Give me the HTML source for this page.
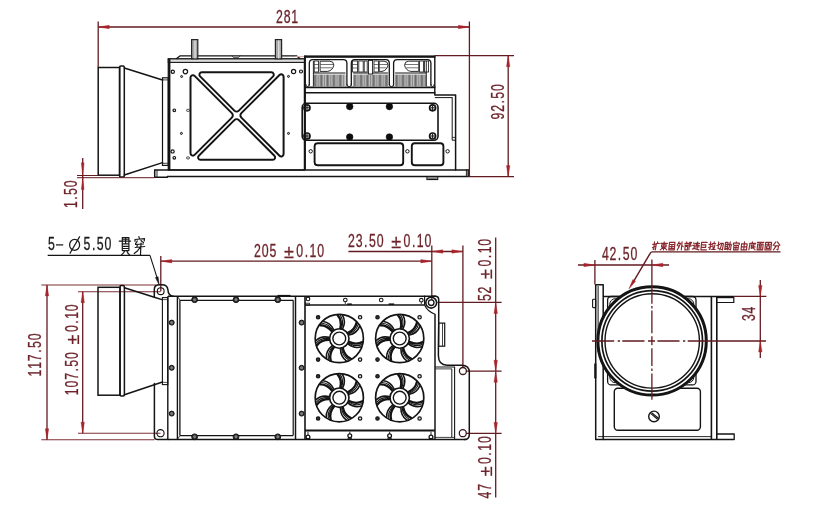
<!DOCTYPE html>
<html><head><meta charset="utf-8"><title>Dimension drawing</title>
<style>
html,body{margin:0;padding:0;background:#fff;}
svg{display:block;font-family:"Liberation Sans",sans-serif;}
</style></head><body>
<svg width="814" height="507" viewBox="0 0 814 507">
<rect width="814" height="507" fill="#ffffff"/>
<g opacity="0.999">
<g id="dims-plan">
<line x1="160.80" y1="256.00" x2="160.80" y2="291.20" stroke="#621b21" stroke-width="1.3" />
<line x1="431.80" y1="245.60" x2="431.80" y2="300.00" stroke="#621b21" stroke-width="1.3" />
<line x1="160.80" y1="261.20" x2="431.80" y2="261.20" stroke="#621b21" stroke-width="1.3" />
<path d="M160.80,261.20 L171.80,262.90 L171.80,259.50 Z" fill="#a6232b" stroke="#a6232b" stroke-width="0.4"/>
<path d="M431.80,261.20 L420.80,259.50 L420.80,262.90 Z" fill="#a6232b" stroke="#a6232b" stroke-width="0.4"/>
<g fill="#6c232a" stroke="#6c232a" text-anchor="middle">
<text transform="translate(254.60,257.00) scale(0.7,1)" x="4.14 15.14 26.14" y="0" font-size="17.6" stroke-width="0.3">205</text>
<text transform="translate(254.60,257.00) translate(34.30,0.8) scale(0.95,1.0)" x="0" y="0" font-size="19" stroke-width="0.25">±</text>
<text transform="translate(254.60,257.00) scale(0.7,1)" x="64.57 74.00 83.43 94.43" y="0" font-size="17.6" stroke-width="0.3">0.10</text>
</g>
<line x1="462.90" y1="245.60" x2="462.90" y2="367.60" stroke="#621b21" stroke-width="1.3" />
<line x1="348.40" y1="251.50" x2="462.90" y2="251.50" stroke="#621b21" stroke-width="1.3" />
<path d="M431.80,251.50 L442.80,253.20 L442.80,249.80 Z" fill="#a6232b" stroke="#a6232b" stroke-width="0.4"/>
<path d="M462.90,251.50 L451.90,249.80 L451.90,253.20 Z" fill="#a6232b" stroke="#a6232b" stroke-width="0.4"/>
<g fill="#6c232a" stroke="#6c232a" text-anchor="middle">
<text transform="translate(348.60,247.00) scale(0.7,1)" x="4.14 15.14 24.57 34.00 45.00" y="0" font-size="17.6" stroke-width="0.3">23.50</text>
<text transform="translate(348.60,247.00) translate(47.50,0.8) scale(0.95,1.0)" x="0" y="0" font-size="19" stroke-width="0.25">±</text>
<text transform="translate(348.60,247.00) scale(0.7,1)" x="83.43 92.86 102.29 113.29" y="0" font-size="17.6" stroke-width="0.3">0.10</text>
</g>
<line x1="495.70" y1="237.50" x2="495.70" y2="497.40" stroke="#621b21" stroke-width="1.3" />
<line x1="437.40" y1="302.40" x2="501.60" y2="302.40" stroke="#621b21" stroke-width="1.3" />
<line x1="466.30" y1="371.20" x2="501.60" y2="371.20" stroke="#621b21" stroke-width="1.3" />
<line x1="466.30" y1="433.40" x2="501.60" y2="433.40" stroke="#621b21" stroke-width="1.3" />
<path d="M495.70,302.40 L494.00,313.40 L497.40,313.40 Z" fill="#a6232b" stroke="#a6232b" stroke-width="0.4"/>
<path d="M495.70,371.20 L497.40,360.20 L494.00,360.20 Z" fill="#a6232b" stroke="#a6232b" stroke-width="0.4"/>
<path d="M495.70,371.20 L494.00,382.20 L497.40,382.20 Z" fill="#a6232b" stroke="#a6232b" stroke-width="0.4"/>
<path d="M495.70,433.40 L497.40,422.40 L494.00,422.40 Z" fill="#a6232b" stroke="#a6232b" stroke-width="0.4"/>
<g fill="#6c232a" stroke="#6c232a" text-anchor="middle">
<text transform="translate(491.40,300.60) rotate(-90) scale(0.7,1)" x="4.14 15.14" y="0" font-size="17.6" stroke-width="0.3">52</text>
<text transform="translate(491.40,300.60) rotate(-90) translate(26.60,0.8) scale(0.95,1.0)" x="0" y="0" font-size="19" stroke-width="0.25">±</text>
<text transform="translate(491.40,300.60) rotate(-90) scale(0.7,1)" x="53.57 63.00 72.43 83.43" y="0" font-size="17.6" stroke-width="0.3">0.10</text>
</g>
<g fill="#6c232a" stroke="#6c232a" text-anchor="middle">
<text transform="translate(491.40,498.00) rotate(-90) scale(0.7,1)" x="4.14 15.14" y="0" font-size="17.6" stroke-width="0.3">47</text>
<text transform="translate(491.40,498.00) rotate(-90) translate(26.60,0.8) scale(0.95,1.0)" x="0" y="0" font-size="19" stroke-width="0.25">±</text>
<text transform="translate(491.40,498.00) rotate(-90) scale(0.7,1)" x="53.57 63.00 72.43 83.43" y="0" font-size="17.6" stroke-width="0.3">0.10</text>
</g>
<line x1="41.30" y1="284.90" x2="156.00" y2="284.90" stroke="#7d2f35" stroke-width="1.05" />
<line x1="41.30" y1="439.70" x2="154.60" y2="439.70" stroke="#7d2f35" stroke-width="1.05" />
<line x1="47.00" y1="284.90" x2="47.00" y2="439.70" stroke="#621b21" stroke-width="1.3" />
<path d="M47.00,284.90 L45.30,295.90 L48.70,295.90 Z" fill="#a6232b" stroke="#a6232b" stroke-width="0.4"/>
<path d="M47.00,439.70 L48.70,428.70 L45.30,428.70 Z" fill="#a6232b" stroke="#a6232b" stroke-width="0.4"/>
<g fill="#6c232a" stroke="#6c232a" text-anchor="middle">
<text transform="translate(41.30,376.00) rotate(-90) scale(0.7,1)" x="4.14 15.14 26.14 35.57 45.00 56.00" y="0" font-size="17.6" stroke-width="0.3">117.50</text>
</g>
<line x1="78.00" y1="291.70" x2="160.70" y2="291.70" stroke="#7d2f35" stroke-width="1.05" />
<line x1="78.00" y1="433.20" x2="160.50" y2="433.20" stroke="#7d2f35" stroke-width="1.05" />
<line x1="82.70" y1="291.70" x2="82.70" y2="433.20" stroke="#621b21" stroke-width="1.3" />
<path d="M82.70,291.70 L81.00,302.70 L84.40,302.70 Z" fill="#a6232b" stroke="#a6232b" stroke-width="0.4"/>
<path d="M82.70,433.20 L84.40,422.20 L81.00,422.20 Z" fill="#a6232b" stroke="#a6232b" stroke-width="0.4"/>
<g fill="#6c232a" stroke="#6c232a" text-anchor="middle">
<text transform="translate(77.90,394.70) rotate(-90) scale(0.7,1)" x="4.14 15.14 26.14 35.57 45.00 56.00" y="0" font-size="17.6" stroke-width="0.3">107.50</text>
<text transform="translate(77.90,394.70) rotate(-90) translate(55.20,0.8) scale(0.95,1.0)" x="0" y="0" font-size="19" stroke-width="0.25">±</text>
<text transform="translate(77.90,394.70) rotate(-90) scale(0.7,1)" x="94.43 103.86 113.29 124.29" y="0" font-size="17.6" stroke-width="0.3">0.10</text>
</g>
</g>
<g id="callout">
<line x1="47.70" y1="255.30" x2="150.00" y2="255.30" stroke="#141414" stroke-width="1.2" />
<line x1="150.00" y1="255.30" x2="157.20" y2="278.20" stroke="#141414" stroke-width="1.1" />
<path d="M159.30,285.20 L158.18,276.64 L155.32,277.54 Z" fill="#141414" stroke="#141414" stroke-width="0.4"/>
<g fill="#1a1a1a" stroke="#1a1a1a" text-anchor="middle">
<text transform="translate(48.40,250.40) scale(0.7,1)" x="4.14" y="0" font-size="17.6" stroke-width="0.3">5</text>
</g>
<line x1="56.00" y1="244.90" x2="63.20" y2="244.90" stroke="#1a1a1a" stroke-width="1.25" />
<ellipse cx="74.6" cy="244.9" rx="5.0" ry="5.5" fill="none" stroke="#1a1a1a" stroke-width="1.25"/>
<line x1="69.80" y1="253.60" x2="79.80" y2="236.40" stroke="#1a1a1a" stroke-width="1.15" />
<g fill="#1a1a1a" stroke="#1a1a1a" text-anchor="middle">
<text transform="translate(84.10,250.40) scale(0.7,1)" x="4.14 13.57 23.00 34.00" y="0" font-size="17.6" stroke-width="0.3">5.50</text>
</g>
<path d="M122.30,237.50 L128.90,237.50 L128.90,250.60 L122.30,250.60 L122.30,237.50 M122.30,239.20 L128.90,239.20 M119.20,241.10 L130.60,241.10 M125.60,237.50 L125.60,243.90 M122.30,243.90 L128.90,243.90 M122.30,246.40 L128.90,246.40 M122.30,248.50 L128.90,248.50 M124.80,250.60 L123.60,252.80 L121.50,254.90 M126.60,250.60 L127.80,253.00 L129.60,254.90 " fill="none" stroke="#1a1a1a" stroke-width="1.2" stroke-linecap="round" stroke-linejoin="round"/>
<path d="M138.90,236.70 L139.50,238.90 M135.00,241.30 L135.00,239.50 L144.50,238.60 L144.20,240.90 M137.20,240.90 L136.60,242.30 L135.50,243.50 M141.00,240.50 L142.00,241.50 L143.50,242.50 M135.50,244.50 L143.50,244.00 M137.40,244.30 L136.80,247.30 M135.20,247.50 L144.70,246.50 M141.00,243.00 L140.50,254.90 M140.00,247.50 L137.70,250.70 L134.20,253.50 " fill="none" stroke="#1a1a1a" stroke-width="1.2" stroke-linecap="round" stroke-linejoin="round"/>
</g>
<g id="note">
<path d="M654.50,241.90 L653.74,249.50 L652.98,249.10 M652.75,244.40 L655.75,244.40 M652.44,247.50 L655.56,246.30 M657.60,241.90 L657.70,242.90 M656.04,243.50 L659.44,243.50 M656.44,243.50 L655.30,249.90 " fill="none" stroke="#8a2a30" stroke-width="1.15" stroke-linecap="round" stroke-linejoin="round"/>
<path d="M660.88,243.40 L667.38,243.40 M661.73,244.90 L666.23,244.90 L666.03,246.90 L661.53,246.90 L661.73,244.90 M664.23,241.90 L663.43,249.90 M663.73,246.90 L660.23,249.90 M663.73,246.90 L666.73,249.90 " fill="none" stroke="#8a2a30" stroke-width="1.15" stroke-linecap="round" stroke-linejoin="round"/>
<path d="M669.51,242.40 L675.01,242.40 L674.26,249.90 L668.76,249.90 L669.51,242.40 M670.40,244.50 L673.80,244.50 M670.20,246.50 L673.60,246.50 M670.02,248.30 L673.42,248.30 M672.00,244.50 L671.62,248.30 " fill="none" stroke="#8a2a30" stroke-width="1.15" stroke-linecap="round" stroke-linejoin="round"/>
<path d="M679.09,241.90 L677.13,245.50 M678.44,243.40 L680.54,243.40 L677.29,249.90 M678.19,245.90 L679.19,246.90 M682.09,241.90 L681.29,249.90 M681.75,245.30 L683.21,246.70 " fill="none" stroke="#8a2a30" stroke-width="1.15" stroke-linecap="round" stroke-linejoin="round"/>
<path d="M686.72,241.90 L686.72,242.90 M684.97,243.40 L688.47,243.40 M684.80,245.10 L688.30,245.10 M685.17,246.40 L687.67,246.40 L687.32,249.90 L684.82,249.90 L685.17,246.40 M689.57,242.40 L688.82,249.90 M689.57,242.40 L691.57,242.40 L690.18,244.30 L691.22,245.90 L689.16,246.50 " fill="none" stroke="#8a2a30" stroke-width="1.15" stroke-linecap="round" stroke-linejoin="round"/>
<path d="M693.55,242.90 L694.45,243.90 M692.80,245.40 L694.30,245.40 L694.00,248.40 M692.43,249.10 L694.00,248.40 L698.95,249.90 M695.50,243.40 L699.50,243.40 M697.65,241.90 L695.80,245.40 L699.30,245.40 M697.70,244.40 L697.31,248.30 M695.15,246.90 L699.15,246.90 " fill="none" stroke="#8a2a30" stroke-width="1.15" stroke-linecap="round" stroke-linejoin="round"/>
<path d="M701.63,242.40 L707.13,242.40 M701.63,242.40 L700.88,249.90 L706.38,249.90 M701.38,244.90 L705.88,244.90 L705.63,247.40 L701.13,247.40 " fill="none" stroke="#8a2a30" stroke-width="1.15" stroke-linecap="round" stroke-linejoin="round"/>
<path d="M710.71,241.90 L709.95,249.50 L709.19,249.10 M708.96,244.40 L711.96,244.40 M708.65,247.50 L711.77,246.30 M714.21,241.90 L714.11,242.90 M712.55,243.50 L715.65,243.50 M712.91,244.90 L713.06,248.40 M714.91,244.90 L714.06,248.40 M711.65,249.50 L715.25,249.50 " fill="none" stroke="#8a2a30" stroke-width="1.15" stroke-linecap="round" stroke-linejoin="round"/>
<path d="M716.88,245.50 L720.00,244.30 M718.74,241.90 L718.08,248.50 L719.54,248.90 M720.59,243.40 L723.39,243.40 L722.44,249.90 L721.49,249.40 M721.89,243.40 L719.94,249.90 " fill="none" stroke="#8a2a30" stroke-width="1.15" stroke-linecap="round" stroke-linejoin="round"/>
<path d="M725.52,242.40 L728.02,242.40 L727.42,248.40 L724.92,248.40 L725.52,242.40 M725.32,244.40 L727.82,244.40 M725.12,246.40 L727.62,246.40 M724.51,249.50 L727.77,248.90 M728.52,244.40 L731.32,244.40 L730.47,249.90 L729.52,249.40 M730.27,241.90 L729.27,246.90 L727.77,249.90 " fill="none" stroke="#8a2a30" stroke-width="1.15" stroke-linecap="round" stroke-linejoin="round"/>
<path d="M736.30,241.90 L736.20,242.90 M733.34,244.50 L733.48,243.10 L739.38,243.10 L739.24,244.50 M733.95,245.40 L738.45,245.40 L738.00,249.90 L733.50,249.90 L733.95,245.40 M733.73,247.60 L738.23,247.60 M736.15,245.40 L735.70,249.90 " fill="none" stroke="#8a2a30" stroke-width="1.15" stroke-linecap="round" stroke-linejoin="round"/>
<path d="M741.63,243.90 L747.13,243.90 L746.53,249.90 L741.03,249.90 L741.63,243.90 M741.33,246.90 L746.83,246.90 M744.53,241.90 L743.73,249.90 " fill="none" stroke="#8a2a30" stroke-width="1.15" stroke-linecap="round" stroke-linejoin="round"/>
<path d="M752.36,241.90 L752.46,242.90 M749.71,243.40 L755.71,243.40 M750.01,243.40 L748.86,249.90 M751.24,245.10 L755.08,244.70 M751.56,244.90 L751.21,248.40 L752.76,247.90 M751.36,246.90 L755.16,246.90 M753.36,244.90 L753.71,248.40 L755.06,249.90 " fill="none" stroke="#8a2a30" stroke-width="1.15" stroke-linecap="round" stroke-linejoin="round"/>
<path d="M757.34,242.40 L763.84,242.40 M760.54,242.40 L759.97,244.10 M757.67,244.10 L763.17,244.10 L762.59,249.90 L757.09,249.90 L757.67,244.10 M759.47,244.10 L758.89,249.90 M761.37,244.10 L760.79,249.90 M759.29,245.90 L761.19,245.90 M759.09,247.90 L760.99,247.90 " fill="none" stroke="#8a2a30" stroke-width="1.15" stroke-linecap="round" stroke-linejoin="round"/>
<path d="M765.67,242.40 L771.57,242.40 L770.82,249.90 L764.92,249.90 L765.67,242.40 M766.49,244.20 L770.39,244.20 M768.50,243.10 L768.22,245.90 M766.82,245.90 L769.72,245.90 L769.47,248.40 L766.57,248.40 L766.82,245.90 " fill="none" stroke="#8a2a30" stroke-width="1.15" stroke-linecap="round" stroke-linejoin="round"/>
<path d="M775.95,241.90 L773.10,245.40 M777.45,241.90 L779.90,245.40 M774.55,245.90 L778.55,245.90 L777.85,249.90 L776.90,249.40 M776.25,245.90 L773.45,249.90 " fill="none" stroke="#8a2a30" stroke-width="1.15" stroke-linecap="round" stroke-linejoin="round"/>
</g>
<g id="view-side">
<rect x="98.20" y="67.50" width="21.40" height="107.70" rx="0" fill="none" stroke="#141414" stroke-width="1.5"/>
<rect x="119.60" y="66.10" width="4.70" height="111.00" rx="1.2" fill="none" stroke="#141414" stroke-width="1.5"/>
<path d="M124.30,68.00 L162.50,80.00" fill="none" stroke="#141414" stroke-width="1.5" stroke-linejoin="round" stroke-linecap="round" />
<path d="M124.30,175.00 L162.50,162.60" fill="none" stroke="#141414" stroke-width="1.5" stroke-linejoin="round" stroke-linecap="round" />
<rect x="162.50" y="77.80" width="5.80" height="87.60" rx="0" fill="none" stroke="#141414" stroke-width="1.2"/>
<line x1="162.50" y1="79.90" x2="168.30" y2="79.90" stroke="#141414" stroke-width="0.8" />
<line x1="162.50" y1="163.30" x2="168.30" y2="163.30" stroke="#141414" stroke-width="0.8" />
<path d="M154.70,170.00 L154.70,177.30 L167.40,177.30 L167.40,176.60 L468.60,176.60 L468.60,170.00" fill="none" stroke="#141414" stroke-width="1.5" stroke-linejoin="round" stroke-linecap="round" />
<line x1="154.70" y1="170.00" x2="468.60" y2="170.00" stroke="#141414" stroke-width="1.5" />
<line x1="157.00" y1="170.00" x2="157.00" y2="177.30" stroke="#141414" stroke-width="0.9" />
<rect x="466.3" y="170.0" width="2.3" height="6.6" fill="#777" stroke="#141414" stroke-width="0.8"/>
<rect x="426.90" y="176.60" width="10.90" height="3.00" rx="0" fill="#999" stroke="#141414" stroke-width="1.0"/>
<line x1="428.50" y1="179.40" x2="436.20" y2="179.40" stroke="#141414" stroke-width="1.2" />
<rect x="168.30" y="58.90" width="136.10" height="111.10" rx="0" fill="none" stroke="#141414" stroke-width="1.3"/>
<rect x="168.3" y="58.9" width="136.1" height="3.5" fill="#dcdcdc" stroke="#141414" stroke-width="1.1"/>
<line x1="169.60" y1="58.90" x2="169.60" y2="170.00" stroke="#141414" stroke-width="1.6" />
<path d="M176.60,58.60 L180.20,55.80 L296.40,55.80 L300.00,58.60" fill="none" stroke="#141414" stroke-width="1.3" stroke-linejoin="round" stroke-linecap="round" />
<path d="M232.00,55.80 L233.50,57.60 L238.50,57.60 L240.00,55.80" fill="none" stroke="#141414" stroke-width="0.7" stroke-linejoin="round" stroke-linecap="round" />
<rect x="191.6" y="39.6" width="6.2" height="19.2" fill="#a8a8a8" stroke="#262626" stroke-width="1.2"/>
<line x1="195.00" y1="40.40" x2="195.00" y2="58.40" stroke="#ececec" stroke-width="1.1" />
<rect x="275.4" y="39.6" width="6.2" height="19.2" fill="#a8a8a8" stroke="#262626" stroke-width="1.2"/>
<line x1="278.80" y1="40.40" x2="278.80" y2="58.40" stroke="#ececec" stroke-width="1.1" />
<path d="M194.60,75.89 A2.4,2.4 0 0 0 190.50,77.59 L190.50,153.21 A2.4,2.4 0 0 0 194.60,154.91 L231.86,117.66 A3.2,3.2 0 0 0 231.86,113.14 Z" fill="none" stroke="#141414" stroke-width="2.0" stroke-linejoin="round"/>
<path d="M279.50,74.99 A2.4,2.4 0 0 1 283.60,76.69 L283.60,154.11 A2.4,2.4 0 0 1 279.50,155.81 L241.34,117.66 A3.2,3.2 0 0 1 241.34,113.14 Z" fill="none" stroke="#141414" stroke-width="2.0" stroke-linejoin="round"/>
<path d="M200.09,76.40 A2.4,2.4 0 0 1 201.79,72.30 L271.41,72.30 A2.4,2.4 0 0 1 273.11,76.40 L238.86,110.66 A3.2,3.2 0 0 1 234.34,110.66 Z" fill="none" stroke="#141414" stroke-width="2.0" stroke-linejoin="round"/>
<path d="M198.79,155.70 A2.4,2.4 0 0 0 200.49,159.80 L272.71,159.80 A2.4,2.4 0 0 0 274.41,155.70 L238.86,120.14 A3.2,3.2 0 0 0 234.34,120.14 Z" fill="none" stroke="#141414" stroke-width="2.0" stroke-linejoin="round"/>
<circle cx="172.80" cy="71.70" r="1.60" fill="none" stroke="#141414" stroke-width="1.2"/>
<circle cx="185.40" cy="71.60" r="2.20" fill="none" stroke="#141414" stroke-width="1.2"/>
<circle cx="174.30" cy="110.30" r="1.30" fill="none" stroke="#141414" stroke-width="1.2"/>
<circle cx="172.60" cy="151.40" r="1.60" fill="none" stroke="#141414" stroke-width="1.2"/>
<circle cx="174.30" cy="157.80" r="1.30" fill="none" stroke="#141414" stroke-width="1.2"/>
<circle cx="293.60" cy="71.50" r="2.10" fill="none" stroke="#141414" stroke-width="1.2"/>
<circle cx="301.00" cy="71.50" r="1.50" fill="none" stroke="#141414" stroke-width="1.2"/>
<circle cx="181.60" cy="76.50" r="1.00" fill="#bbb" stroke="#141414" stroke-width="1.0"/>
<circle cx="181.40" cy="133.40" r="1.00" fill="#bbb" stroke="#141414" stroke-width="1.0"/>
<circle cx="288.50" cy="76.40" r="1.00" fill="#bbb" stroke="#141414" stroke-width="1.0"/>
<circle cx="288.50" cy="133.40" r="1.00" fill="#bbb" stroke="#141414" stroke-width="1.0"/>
<rect x="186.60" y="109.40" width="2.80" height="2.00" rx="0.8" fill="none" stroke="#141414" stroke-width="0.8"/>
<rect x="186.60" y="156.90" width="2.80" height="2.00" rx="0.8" fill="none" stroke="#141414" stroke-width="0.8"/>
<rect x="304.4" y="55.4" width="131" height="2.4" fill="#141414"/>
<line x1="305.00" y1="55.40" x2="305.00" y2="170.00" stroke="#141414" stroke-width="1.9" />
<line x1="434.80" y1="55.40" x2="434.80" y2="95.00" stroke="#141414" stroke-width="1.4" />
<line x1="304.40" y1="87.40" x2="435.40" y2="87.40" stroke="#141414" stroke-width="1.8" />
<line x1="304.40" y1="92.70" x2="435.40" y2="92.70" stroke="#141414" stroke-width="1.4" />
<rect x="313.4" y="74.6" width="32.00" height="12.0" fill="#8c8c8c"/>
<line x1="315.00" y1="74.80" x2="315.00" y2="86.40" stroke="#5a5a5a" stroke-width="0.7" />
<line x1="317.10" y1="74.80" x2="317.10" y2="86.40" stroke="#d2d2d2" stroke-width="0.7" />
<line x1="319.20" y1="74.80" x2="319.20" y2="86.40" stroke="#d2d2d2" stroke-width="0.7" />
<line x1="321.30" y1="74.80" x2="321.30" y2="86.40" stroke="#5a5a5a" stroke-width="0.7" />
<line x1="323.40" y1="74.80" x2="323.40" y2="86.40" stroke="#d2d2d2" stroke-width="0.7" />
<line x1="325.50" y1="74.80" x2="325.50" y2="86.40" stroke="#d2d2d2" stroke-width="0.7" />
<line x1="327.60" y1="74.80" x2="327.60" y2="86.40" stroke="#5a5a5a" stroke-width="0.7" />
<line x1="329.70" y1="74.80" x2="329.70" y2="86.40" stroke="#d2d2d2" stroke-width="0.7" />
<line x1="331.80" y1="74.80" x2="331.80" y2="86.40" stroke="#d2d2d2" stroke-width="0.7" />
<line x1="333.90" y1="74.80" x2="333.90" y2="86.40" stroke="#5a5a5a" stroke-width="0.7" />
<line x1="336.00" y1="74.80" x2="336.00" y2="86.40" stroke="#d2d2d2" stroke-width="0.7" />
<line x1="338.10" y1="74.80" x2="338.10" y2="86.40" stroke="#d2d2d2" stroke-width="0.7" />
<line x1="340.20" y1="74.80" x2="340.20" y2="86.40" stroke="#5a5a5a" stroke-width="0.7" />
<line x1="342.30" y1="74.80" x2="342.30" y2="86.40" stroke="#d2d2d2" stroke-width="0.7" />
<line x1="344.40" y1="74.80" x2="344.40" y2="86.40" stroke="#d2d2d2" stroke-width="0.7" />
<line x1="313.40" y1="73.00" x2="345.40" y2="73.00" stroke="#141414" stroke-width="1.0" />
<path d="M309.3,85.0 L309.3,63.2 Q309.3,59.6 312.90000000000003,59.6 L343.29999999999995,59.6 Q346.9,59.6 346.9,63.2 L346.9,85.0" fill="none" stroke="#141414" stroke-width="1.3" stroke-linejoin="round" stroke-linecap="round" />
<rect x="353.2" y="74.6" width="34.90" height="12.0" fill="#8c8c8c"/>
<line x1="354.80" y1="74.80" x2="354.80" y2="86.40" stroke="#5a5a5a" stroke-width="0.7" />
<line x1="356.90" y1="74.80" x2="356.90" y2="86.40" stroke="#d2d2d2" stroke-width="0.7" />
<line x1="359.00" y1="74.80" x2="359.00" y2="86.40" stroke="#d2d2d2" stroke-width="0.7" />
<line x1="361.10" y1="74.80" x2="361.10" y2="86.40" stroke="#5a5a5a" stroke-width="0.7" />
<line x1="363.20" y1="74.80" x2="363.20" y2="86.40" stroke="#d2d2d2" stroke-width="0.7" />
<line x1="365.30" y1="74.80" x2="365.30" y2="86.40" stroke="#d2d2d2" stroke-width="0.7" />
<line x1="367.40" y1="74.80" x2="367.40" y2="86.40" stroke="#5a5a5a" stroke-width="0.7" />
<line x1="369.50" y1="74.80" x2="369.50" y2="86.40" stroke="#d2d2d2" stroke-width="0.7" />
<line x1="371.60" y1="74.80" x2="371.60" y2="86.40" stroke="#d2d2d2" stroke-width="0.7" />
<line x1="373.70" y1="74.80" x2="373.70" y2="86.40" stroke="#5a5a5a" stroke-width="0.7" />
<line x1="375.80" y1="74.80" x2="375.80" y2="86.40" stroke="#d2d2d2" stroke-width="0.7" />
<line x1="377.90" y1="74.80" x2="377.90" y2="86.40" stroke="#d2d2d2" stroke-width="0.7" />
<line x1="380.00" y1="74.80" x2="380.00" y2="86.40" stroke="#5a5a5a" stroke-width="0.7" />
<line x1="382.10" y1="74.80" x2="382.10" y2="86.40" stroke="#d2d2d2" stroke-width="0.7" />
<line x1="384.20" y1="74.80" x2="384.20" y2="86.40" stroke="#d2d2d2" stroke-width="0.7" />
<line x1="386.30" y1="74.80" x2="386.30" y2="86.40" stroke="#5a5a5a" stroke-width="0.7" />
<line x1="353.20" y1="73.00" x2="388.10" y2="73.00" stroke="#141414" stroke-width="1.0" />
<path d="M351.3,85.0 L351.3,63.2 Q351.3,59.6 354.90000000000003,59.6 L385.7,59.6 Q389.3,59.6 389.3,63.2 L389.3,85.0" fill="none" stroke="#141414" stroke-width="1.3" stroke-linejoin="round" stroke-linecap="round" />
<rect x="395.1" y="74.6" width="31.20" height="12.0" fill="#8c8c8c"/>
<line x1="396.70" y1="74.80" x2="396.70" y2="86.40" stroke="#5a5a5a" stroke-width="0.7" />
<line x1="398.80" y1="74.80" x2="398.80" y2="86.40" stroke="#d2d2d2" stroke-width="0.7" />
<line x1="400.90" y1="74.80" x2="400.90" y2="86.40" stroke="#d2d2d2" stroke-width="0.7" />
<line x1="403.00" y1="74.80" x2="403.00" y2="86.40" stroke="#5a5a5a" stroke-width="0.7" />
<line x1="405.10" y1="74.80" x2="405.10" y2="86.40" stroke="#d2d2d2" stroke-width="0.7" />
<line x1="407.20" y1="74.80" x2="407.20" y2="86.40" stroke="#d2d2d2" stroke-width="0.7" />
<line x1="409.30" y1="74.80" x2="409.30" y2="86.40" stroke="#5a5a5a" stroke-width="0.7" />
<line x1="411.40" y1="74.80" x2="411.40" y2="86.40" stroke="#d2d2d2" stroke-width="0.7" />
<line x1="413.50" y1="74.80" x2="413.50" y2="86.40" stroke="#d2d2d2" stroke-width="0.7" />
<line x1="415.60" y1="74.80" x2="415.60" y2="86.40" stroke="#5a5a5a" stroke-width="0.7" />
<line x1="417.70" y1="74.80" x2="417.70" y2="86.40" stroke="#d2d2d2" stroke-width="0.7" />
<line x1="419.80" y1="74.80" x2="419.80" y2="86.40" stroke="#d2d2d2" stroke-width="0.7" />
<line x1="421.90" y1="74.80" x2="421.90" y2="86.40" stroke="#5a5a5a" stroke-width="0.7" />
<line x1="424.00" y1="74.80" x2="424.00" y2="86.40" stroke="#d2d2d2" stroke-width="0.7" />
<line x1="395.10" y1="73.00" x2="426.30" y2="73.00" stroke="#141414" stroke-width="1.0" />
<path d="M393.6,85.0 L393.6,63.2 Q393.6,59.6 397.20000000000005,59.6 L427.29999999999995,59.6 Q430.9,59.6 430.9,63.2 L430.9,85.0" fill="none" stroke="#141414" stroke-width="1.3" stroke-linejoin="round" stroke-linecap="round" />
<line x1="313.40" y1="61.00" x2="313.40" y2="86.40" stroke="#141414" stroke-width="0.9" />
<line x1="426.30" y1="61.00" x2="426.30" y2="86.40" stroke="#141414" stroke-width="0.9" />
<path d="M305.9,84.5 Q305.9,86.6 307.6,86.6 Q309.3,86.6 309.3,84.5" fill="none" stroke="#141414" stroke-width="0.9" stroke-linejoin="round" stroke-linecap="round" />
<path d="M346.9,84.5 Q346.9,86.6 349.15,86.6 Q351.4,86.6 351.4,84.5" fill="none" stroke="#141414" stroke-width="0.9" stroke-linejoin="round" stroke-linecap="round" />
<path d="M389.3,84.5 Q389.3,86.6 391.45000000000005,86.6 Q393.6,86.6 393.6,84.5" fill="none" stroke="#141414" stroke-width="0.9" stroke-linejoin="round" stroke-linecap="round" />
<path d="M430.9,84.5 Q430.9,86.6 432.54999999999995,86.6 Q434.2,86.6 434.2,84.5" fill="none" stroke="#141414" stroke-width="0.9" stroke-linejoin="round" stroke-linecap="round" />
<path d="M320.5,61.2 L329.8,61.2 Q333.8,61.2 333.8,65.2 Q332.8,70.4 327.8,71.4 L320.5,71.4 Z" fill="none" stroke="#141414" stroke-width="0.9" stroke-linejoin="round" stroke-linecap="round" />
<line x1="320.50" y1="64.50" x2="333.30" y2="64.50" stroke="#141414" stroke-width="0.6" />
<line x1="320.50" y1="67.80" x2="332.30" y2="67.80" stroke="#141414" stroke-width="0.6" />
<rect x="314.20" y="61.00" width="4.40" height="11.00" rx="0" fill="none" stroke="#141414" stroke-width="0.8"/>
<line x1="314.20" y1="64.50" x2="318.60" y2="64.50" stroke="#141414" stroke-width="0.6" />
<line x1="314.20" y1="68.00" x2="318.60" y2="68.00" stroke="#141414" stroke-width="0.6" />
<rect x="352.60" y="61.00" width="5.00" height="11.00" rx="0" fill="none" stroke="#141414" stroke-width="0.8"/>
<line x1="352.60" y1="64.50" x2="357.60" y2="64.50" stroke="#141414" stroke-width="0.6" />
<line x1="352.60" y1="68.00" x2="357.60" y2="68.00" stroke="#141414" stroke-width="0.6" />
<rect x="358.80" y="61.00" width="4.40" height="11.00" rx="0" fill="none" stroke="#141414" stroke-width="0.8"/>
<rect x="364.20" y="61.00" width="3.00" height="11.00" rx="0" fill="none" stroke="#141414" stroke-width="0.8"/>
<rect x="368.4" y="60.4" width="4.2" height="13.6" fill="#fff" stroke="#141414" stroke-width="0.9"/>
<rect x="374.00" y="61.00" width="4.40" height="11.00" rx="0" fill="none" stroke="#141414" stroke-width="0.8"/>
<line x1="374.00" y1="64.50" x2="378.40" y2="64.50" stroke="#141414" stroke-width="0.6" />
<line x1="374.00" y1="68.00" x2="378.40" y2="68.00" stroke="#141414" stroke-width="0.6" />
<path d="M379.6,61.2 L384.0,61.2 Q388.0,61.2 388.0,65.2 Q387.0,70.4 382.0,71.4 L379.6,71.4 Z" fill="none" stroke="#141414" stroke-width="0.9" stroke-linejoin="round" stroke-linecap="round" />
<line x1="379.60" y1="64.50" x2="387.50" y2="64.50" stroke="#141414" stroke-width="0.6" />
<line x1="379.60" y1="67.80" x2="386.50" y2="67.80" stroke="#141414" stroke-width="0.6" />
<path d="M418.4,61.2 L408.6,61.2 Q404.6,61.2 404.6,65.2 Q405.6,70.4 410.6,71.4 L418.4,71.4 Z" fill="none" stroke="#141414" stroke-width="0.9" stroke-linejoin="round" stroke-linecap="round" />
<line x1="418.40" y1="64.50" x2="405.10" y2="64.50" stroke="#141414" stroke-width="0.6" />
<line x1="418.40" y1="67.80" x2="406.10" y2="67.80" stroke="#141414" stroke-width="0.6" />
<rect x="419.60" y="61.00" width="3.80" height="11.00" rx="0" fill="none" stroke="#141414" stroke-width="0.8"/>
<rect x="424.40" y="61.00" width="4.20" height="11.00" rx="0" fill="none" stroke="#141414" stroke-width="0.8"/>
<path d="M434.80,95.00 L455.60,95.00 L455.60,170.00" fill="none" stroke="#141414" stroke-width="1.5" stroke-linejoin="round" stroke-linecap="round" />
<line x1="434.80" y1="97.60" x2="452.20" y2="97.60" stroke="#141414" stroke-width="1.0" />
<path d="M452.20,97.60 L452.20,140.20 L455.60,140.20" fill="none" stroke="#141414" stroke-width="1.0" stroke-linejoin="round" stroke-linecap="round" />
<line x1="452.20" y1="137.40" x2="455.60" y2="137.40" stroke="#141414" stroke-width="0.8" />
<rect x="302.20" y="103.30" width="135.80" height="37.00" rx="4" fill="none" stroke="#141414" stroke-width="1.6"/>
<circle cx="307.00" cy="107.80" r="3.00" fill="none" stroke="#141414" stroke-width="1.7"/>
<line x1="304.80" y1="107.80" x2="309.20" y2="107.80" stroke="#141414" stroke-width="1.0" />
<line x1="307.00" y1="105.60" x2="307.00" y2="110.00" stroke="#141414" stroke-width="1.0" />
<circle cx="432.60" cy="107.80" r="3.00" fill="none" stroke="#141414" stroke-width="1.7"/>
<line x1="430.40" y1="107.80" x2="434.80" y2="107.80" stroke="#141414" stroke-width="1.0" />
<line x1="432.60" y1="105.60" x2="432.60" y2="110.00" stroke="#141414" stroke-width="1.0" />
<circle cx="307.00" cy="136.00" r="3.00" fill="none" stroke="#141414" stroke-width="1.7"/>
<line x1="304.80" y1="136.00" x2="309.20" y2="136.00" stroke="#141414" stroke-width="1.0" />
<line x1="307.00" y1="133.80" x2="307.00" y2="138.20" stroke="#141414" stroke-width="1.0" />
<circle cx="432.60" cy="136.00" r="3.00" fill="none" stroke="#141414" stroke-width="1.7"/>
<line x1="430.40" y1="136.00" x2="434.80" y2="136.00" stroke="#141414" stroke-width="1.0" />
<line x1="432.60" y1="133.80" x2="432.60" y2="138.20" stroke="#141414" stroke-width="1.0" />
<circle cx="349.70" cy="106.60" r="3.30" fill="#0d0d0d" stroke="#141414" stroke-width="0.6"/>
<circle cx="389.40" cy="106.60" r="3.30" fill="#0d0d0d" stroke="#141414" stroke-width="0.6"/>
<circle cx="349.70" cy="137.00" r="3.30" fill="#0d0d0d" stroke="#141414" stroke-width="0.6"/>
<circle cx="389.40" cy="137.00" r="3.30" fill="#0d0d0d" stroke="#141414" stroke-width="0.6"/>
<rect x="314.60" y="143.20" width="88.60" height="22.10" rx="3" fill="none" stroke="#141414" stroke-width="1.9"/>
<rect x="411.80" y="143.20" width="31.60" height="22.10" rx="3" fill="none" stroke="#141414" stroke-width="1.9"/>
<circle cx="310.70" cy="151.30" r="1.70" fill="none" stroke="#141414" stroke-width="1.0"/>
<circle cx="407.40" cy="151.30" r="1.70" fill="none" stroke="#141414" stroke-width="1.0"/>
<circle cx="447.60" cy="151.30" r="1.70" fill="none" stroke="#141414" stroke-width="1.0"/>
</g>
<g id="dims-side">
<line x1="98.20" y1="21.50" x2="98.20" y2="67.00" stroke="#621b21" stroke-width="1.3" />
<line x1="469.40" y1="21.50" x2="469.40" y2="176.00" stroke="#621b21" stroke-width="1.3" />
<line x1="98.20" y1="27.00" x2="469.40" y2="27.00" stroke="#621b21" stroke-width="1.3" />
<path d="M98.20,27.00 L109.20,28.70 L109.20,25.30 Z" fill="#a6232b" stroke="#a6232b" stroke-width="0.4"/>
<path d="M469.40,27.00 L458.40,25.30 L458.40,28.70 Z" fill="#a6232b" stroke="#a6232b" stroke-width="0.4"/>
<g fill="#6c232a" stroke="#6c232a" text-anchor="middle">
<text transform="translate(276.50,23.20) scale(0.7,1)" x="4.14 15.14 26.14" y="0" font-size="17.6" stroke-width="0.3">281</text>
</g>
<line x1="295.30" y1="56.60" x2="304.00" y2="56.60" stroke="#d9a9a9" stroke-width="1.0" />
<line x1="435.00" y1="55.70" x2="514.00" y2="55.70" stroke="#621b21" stroke-width="1.3" />
<line x1="469.00" y1="176.60" x2="514.00" y2="176.60" stroke="#621b21" stroke-width="1.3" />
<line x1="508.20" y1="55.70" x2="508.20" y2="176.60" stroke="#621b21" stroke-width="1.3" />
<path d="M508.20,55.70 L506.50,66.70 L509.90,66.70 Z" fill="#a6232b" stroke="#a6232b" stroke-width="0.4"/>
<path d="M508.20,176.60 L509.90,165.60 L506.50,165.60 Z" fill="#a6232b" stroke="#a6232b" stroke-width="0.4"/>
<g fill="#6c232a" stroke="#6c232a" text-anchor="middle">
<text transform="translate(503.80,119.00) rotate(-90) scale(0.7,1)" x="4.14 15.14 24.57 34.00 45.00" y="0" font-size="17.6" stroke-width="0.3">92.50</text>
</g>
<line x1="77.00" y1="175.50" x2="98.20" y2="175.50" stroke="#621b21" stroke-width="1.0" />
<line x1="77.00" y1="177.70" x2="154.70" y2="177.70" stroke="#621b21" stroke-width="1.0" />
<line x1="82.70" y1="158.00" x2="82.70" y2="209.00" stroke="#621b21" stroke-width="1.3" />
<path d="M82.70,175.30 L84.10,162.80 L81.30,162.80 Z" fill="#a6232b" stroke="#a6232b" stroke-width="0.4"/>
<path d="M82.70,177.90 L81.30,189.40 L84.10,189.40 Z" fill="#a6232b" stroke="#a6232b" stroke-width="0.4"/>
<g fill="#6c232a" stroke="#6c232a" text-anchor="middle">
<text transform="translate(77.00,207.60) rotate(-90) scale(0.7,1)" x="4.14 13.57 23.00 34.00" y="0" font-size="17.6" stroke-width="0.3">1.50</text>
</g>
</g>
<g id="view-plan">
<rect x="98.00" y="287.30" width="22.00" height="107.90" rx="0" fill="none" stroke="#141414" stroke-width="1.5"/>
<rect x="120.00" y="285.60" width="4.40" height="110.40" rx="1.2" fill="none" stroke="#141414" stroke-width="1.5"/>
<path d="M124.40,287.70 L154.30,297.20 L162.00,299.60" fill="none" stroke="#141414" stroke-width="1.5" stroke-linejoin="round" stroke-linecap="round" />
<path d="M124.40,394.80 L162.50,382.00" fill="none" stroke="#141414" stroke-width="1.5" stroke-linejoin="round" stroke-linecap="round" />
<path d="M154.3,297.0 L154.3,289.4 Q154.3,284.7 159.6,284.7 L161.8,284.7 Q167.6,284.7 167.9,289.8 Q168.2,295.6 173.2,296.2" fill="none" stroke="#141414" stroke-width="1.5" stroke-linejoin="round" stroke-linecap="round" />
<circle cx="160.70" cy="291.20" r="3.40" fill="none" stroke="#141414" stroke-width="1.1"/>
<path d="M154.4,383.6 L154.4,436.2 Q154.4,439.5 157.8,439.5 L168,439.5" fill="none" stroke="#141414" stroke-width="1.5" stroke-linejoin="round" stroke-linecap="round" />
<circle cx="160.50" cy="433.20" r="3.60" fill="none" stroke="#141414" stroke-width="1.1"/>
<rect x="162.40" y="297.60" width="5.40" height="87.00" rx="0" fill="none" stroke="#141414" stroke-width="1.1"/>
<line x1="162.40" y1="299.60" x2="167.80" y2="299.60" stroke="#141414" stroke-width="0.7" />
<line x1="162.40" y1="382.40" x2="167.80" y2="382.40" stroke="#141414" stroke-width="0.7" />
<line x1="168.00" y1="296.20" x2="436.00" y2="296.20" stroke="#141414" stroke-width="1.5" />
<line x1="168.00" y1="439.50" x2="466.20" y2="439.50" stroke="#141414" stroke-width="1.5" />
<line x1="167.80" y1="296.20" x2="167.80" y2="439.50" stroke="#141414" stroke-width="1.4" />
<line x1="177.40" y1="296.20" x2="177.40" y2="439.50" stroke="#141414" stroke-width="1.4" />
<line x1="179.90" y1="300.30" x2="179.90" y2="435.60" stroke="#141414" stroke-width="1.3" />
<line x1="177.40" y1="296.20" x2="179.90" y2="300.30" stroke="#141414" stroke-width="0.8" />
<line x1="177.40" y1="439.50" x2="179.90" y2="435.60" stroke="#141414" stroke-width="0.8" />
<line x1="179.90" y1="300.30" x2="293.20" y2="300.30" stroke="#141414" stroke-width="1.2" />
<line x1="179.90" y1="435.60" x2="293.20" y2="435.60" stroke="#141414" stroke-width="1.2" />
<line x1="293.20" y1="300.30" x2="293.20" y2="435.60" stroke="#141414" stroke-width="1.2" />
<line x1="295.50" y1="296.20" x2="295.50" y2="439.50" stroke="#141414" stroke-width="1.5" />
<line x1="305.00" y1="296.20" x2="305.00" y2="439.50" stroke="#141414" stroke-width="1.6" />
<circle cx="194.60" cy="299.70" r="2.90" fill="#2a2a2a" stroke="#141414" stroke-width="1.0"/>
<circle cx="194.60" cy="299.70" r="1.20" fill="#777" stroke="#999" stroke-width="0.5"/>
<circle cx="194.60" cy="436.80" r="2.90" fill="#2a2a2a" stroke="#141414" stroke-width="1.0"/>
<circle cx="194.60" cy="436.80" r="1.20" fill="#777" stroke="#999" stroke-width="0.5"/>
<circle cx="236.00" cy="299.70" r="2.90" fill="#2a2a2a" stroke="#141414" stroke-width="1.0"/>
<circle cx="236.00" cy="299.70" r="1.20" fill="#777" stroke="#999" stroke-width="0.5"/>
<circle cx="236.00" cy="436.80" r="2.90" fill="#2a2a2a" stroke="#141414" stroke-width="1.0"/>
<circle cx="236.00" cy="436.80" r="1.20" fill="#777" stroke="#999" stroke-width="0.5"/>
<circle cx="277.80" cy="299.70" r="2.90" fill="#2a2a2a" stroke="#141414" stroke-width="1.0"/>
<circle cx="277.80" cy="299.70" r="1.20" fill="#777" stroke="#999" stroke-width="0.5"/>
<circle cx="277.80" cy="436.80" r="2.90" fill="#2a2a2a" stroke="#141414" stroke-width="1.0"/>
<circle cx="277.80" cy="436.80" r="1.20" fill="#777" stroke="#999" stroke-width="0.5"/>
<circle cx="171.70" cy="322.60" r="2.50" fill="#2a2a2a" stroke="#141414" stroke-width="1.0"/>
<circle cx="171.70" cy="322.60" r="1.20" fill="#777" stroke="#999" stroke-width="0.5"/>
<circle cx="301.60" cy="322.60" r="2.50" fill="#2a2a2a" stroke="#141414" stroke-width="1.0"/>
<circle cx="301.60" cy="322.60" r="1.20" fill="#777" stroke="#999" stroke-width="0.5"/>
<circle cx="171.70" cy="367.80" r="2.50" fill="#2a2a2a" stroke="#141414" stroke-width="1.0"/>
<circle cx="171.70" cy="367.80" r="1.20" fill="#777" stroke="#999" stroke-width="0.5"/>
<circle cx="301.60" cy="367.80" r="2.50" fill="#2a2a2a" stroke="#141414" stroke-width="1.0"/>
<circle cx="301.60" cy="367.80" r="1.20" fill="#777" stroke="#999" stroke-width="0.5"/>
<circle cx="171.70" cy="413.60" r="2.50" fill="#2a2a2a" stroke="#141414" stroke-width="1.0"/>
<circle cx="171.70" cy="413.60" r="1.20" fill="#777" stroke="#999" stroke-width="0.5"/>
<circle cx="301.60" cy="413.60" r="2.50" fill="#2a2a2a" stroke="#141414" stroke-width="1.0"/>
<circle cx="301.60" cy="413.60" r="1.20" fill="#777" stroke="#999" stroke-width="0.5"/>
<rect x="347.2" y="303.4" width="4.6" height="1.6" fill="#141414"/>
<rect x="388.7" y="303.4" width="5.5" height="1.6" fill="#141414"/>
<line x1="305.00" y1="305.00" x2="424.60" y2="305.00" stroke="#141414" stroke-width="1.7" />
<line x1="305.00" y1="430.60" x2="435.00" y2="430.60" stroke="#141414" stroke-width="2.0" />
<line x1="435.00" y1="314.20" x2="435.00" y2="439.50" stroke="#141414" stroke-width="1.5" />
<circle cx="339.30" cy="338.50" r="24.10" fill="none" stroke="#141414" stroke-width="1.7"/>
<circle cx="339.30" cy="338.50" r="9.70" fill="none" stroke="#141414" stroke-width="1.6"/>
<circle cx="339.30" cy="338.50" r="6.40" fill="none" stroke="#141414" stroke-width="1.4"/>
<path d="M340.38,328.26 Q342.17,320.38 337.67,315.16" fill="none" stroke="#141414" stroke-width="2.4" stroke-linejoin="round" stroke-linecap="round" />
<path d="M342.65,328.76 Q346.17,321.49 342.56,315.33" fill="none" stroke="#141414" stroke-width="1.6" stroke-linejoin="round" stroke-linecap="round" />
<path d="M341.53,328.44 Q344.16,320.96 340.31,315.42" fill="none" stroke="#141414" stroke-width="1.1" stroke-linejoin="round" stroke-linecap="round" />
<path d="M347.98,332.95 Q355.26,329.44 356.53,322.67" fill="none" stroke="#141414" stroke-width="2.4" stroke-linejoin="round" stroke-linecap="round" />
<path d="M349.00,335.05 Q356.89,333.27 359.45,326.60" fill="none" stroke="#141414" stroke-width="1.6" stroke-linejoin="round" stroke-linecap="round" />
<path d="M348.55,333.97 Q356.04,331.37 357.97,324.90" fill="none" stroke="#141414" stroke-width="1.1" stroke-linejoin="round" stroke-linecap="round" />
<path d="M349.05,341.83 Q356.33,345.33 362.42,342.10" fill="none" stroke="#141414" stroke-width="2.4" stroke-linejoin="round" stroke-linecap="round" />
<path d="M348.05,343.94 Q354.36,348.99 361.17,346.83" fill="none" stroke="#141414" stroke-width="1.6" stroke-linejoin="round" stroke-linecap="round" />
<path d="M348.61,342.91 Q355.32,347.14 361.58,344.62" fill="none" stroke="#141414" stroke-width="1.1" stroke-linejoin="round" stroke-linecap="round" />
<path d="M342.77,348.20 Q344.58,356.07 350.90,358.82" fill="none" stroke="#141414" stroke-width="2.4" stroke-linejoin="round" stroke-linecap="round" />
<path d="M340.50,348.73 Q340.49,356.81 346.42,360.79" fill="none" stroke="#141414" stroke-width="1.6" stroke-linejoin="round" stroke-linecap="round" />
<path d="M341.65,348.53 Q342.53,356.41 348.41,359.73" fill="none" stroke="#141414" stroke-width="1.1" stroke-linejoin="round" stroke-linecap="round" />
<path d="M333.89,347.26 Q328.85,353.58 330.64,360.24" fill="none" stroke="#141414" stroke-width="2.4" stroke-linejoin="round" stroke-linecap="round" />
<path d="M332.05,345.82 Q325.72,350.85 326.31,357.96" fill="none" stroke="#141414" stroke-width="1.6" stroke-linejoin="round" stroke-linecap="round" />
<path d="M332.93,346.59 Q327.31,352.19 328.38,358.86" fill="none" stroke="#141414" stroke-width="1.1" stroke-linejoin="round" stroke-linecap="round" />
<path d="M329.07,339.73 Q320.99,339.73 316.91,345.29" fill="none" stroke="#141414" stroke-width="2.4" stroke-linejoin="round" stroke-linecap="round" />
<path d="M329.06,337.40 Q321.18,335.58 315.98,340.48" fill="none" stroke="#141414" stroke-width="1.6" stroke-linejoin="round" stroke-linecap="round" />
<path d="M329.00,338.56 Q321.12,337.66 316.58,342.65" fill="none" stroke="#141414" stroke-width="1.1" stroke-linejoin="round" stroke-linecap="round" />
<path d="M331.96,331.27 Q326.92,324.96 320.03,325.22" fill="none" stroke="#141414" stroke-width="2.4" stroke-linejoin="round" stroke-linecap="round" />
<path d="M333.78,329.81 Q330.28,322.52 323.21,321.51" fill="none" stroke="#141414" stroke-width="1.6" stroke-linejoin="round" stroke-linecap="round" />
<path d="M332.83,330.49 Q328.62,323.76 321.89,323.32" fill="none" stroke="#141414" stroke-width="1.1" stroke-linejoin="round" stroke-linecap="round" />
<circle cx="339.30" cy="397.70" r="24.10" fill="none" stroke="#141414" stroke-width="1.7"/>
<circle cx="339.30" cy="397.70" r="9.70" fill="none" stroke="#141414" stroke-width="1.6"/>
<circle cx="339.30" cy="397.70" r="6.40" fill="none" stroke="#141414" stroke-width="1.4"/>
<path d="M340.38,387.46 Q342.17,379.58 337.67,374.36" fill="none" stroke="#141414" stroke-width="2.4" stroke-linejoin="round" stroke-linecap="round" />
<path d="M342.65,387.96 Q346.17,380.69 342.56,374.53" fill="none" stroke="#141414" stroke-width="1.6" stroke-linejoin="round" stroke-linecap="round" />
<path d="M341.53,387.64 Q344.16,380.16 340.31,374.62" fill="none" stroke="#141414" stroke-width="1.1" stroke-linejoin="round" stroke-linecap="round" />
<path d="M347.98,392.15 Q355.26,388.64 356.53,381.87" fill="none" stroke="#141414" stroke-width="2.4" stroke-linejoin="round" stroke-linecap="round" />
<path d="M349.00,394.25 Q356.89,392.47 359.45,385.80" fill="none" stroke="#141414" stroke-width="1.6" stroke-linejoin="round" stroke-linecap="round" />
<path d="M348.55,393.17 Q356.04,390.57 357.97,384.10" fill="none" stroke="#141414" stroke-width="1.1" stroke-linejoin="round" stroke-linecap="round" />
<path d="M349.05,401.03 Q356.33,404.53 362.42,401.30" fill="none" stroke="#141414" stroke-width="2.4" stroke-linejoin="round" stroke-linecap="round" />
<path d="M348.05,403.14 Q354.36,408.19 361.17,406.03" fill="none" stroke="#141414" stroke-width="1.6" stroke-linejoin="round" stroke-linecap="round" />
<path d="M348.61,402.11 Q355.32,406.34 361.58,403.82" fill="none" stroke="#141414" stroke-width="1.1" stroke-linejoin="round" stroke-linecap="round" />
<path d="M342.77,407.40 Q344.58,415.27 350.90,418.02" fill="none" stroke="#141414" stroke-width="2.4" stroke-linejoin="round" stroke-linecap="round" />
<path d="M340.50,407.93 Q340.49,416.01 346.42,419.99" fill="none" stroke="#141414" stroke-width="1.6" stroke-linejoin="round" stroke-linecap="round" />
<path d="M341.65,407.73 Q342.53,415.61 348.41,418.93" fill="none" stroke="#141414" stroke-width="1.1" stroke-linejoin="round" stroke-linecap="round" />
<path d="M333.89,406.46 Q328.85,412.78 330.64,419.44" fill="none" stroke="#141414" stroke-width="2.4" stroke-linejoin="round" stroke-linecap="round" />
<path d="M332.05,405.02 Q325.72,410.05 326.31,417.16" fill="none" stroke="#141414" stroke-width="1.6" stroke-linejoin="round" stroke-linecap="round" />
<path d="M332.93,405.79 Q327.31,411.39 328.38,418.06" fill="none" stroke="#141414" stroke-width="1.1" stroke-linejoin="round" stroke-linecap="round" />
<path d="M329.07,398.93 Q320.99,398.93 316.91,404.49" fill="none" stroke="#141414" stroke-width="2.4" stroke-linejoin="round" stroke-linecap="round" />
<path d="M329.06,396.60 Q321.18,394.78 315.98,399.68" fill="none" stroke="#141414" stroke-width="1.6" stroke-linejoin="round" stroke-linecap="round" />
<path d="M329.00,397.76 Q321.12,396.86 316.58,401.85" fill="none" stroke="#141414" stroke-width="1.1" stroke-linejoin="round" stroke-linecap="round" />
<path d="M331.96,390.47 Q326.92,384.16 320.03,384.42" fill="none" stroke="#141414" stroke-width="2.4" stroke-linejoin="round" stroke-linecap="round" />
<path d="M333.78,389.01 Q330.28,381.72 323.21,380.71" fill="none" stroke="#141414" stroke-width="1.6" stroke-linejoin="round" stroke-linecap="round" />
<path d="M332.83,389.69 Q328.62,382.96 321.89,382.52" fill="none" stroke="#141414" stroke-width="1.1" stroke-linejoin="round" stroke-linecap="round" />
<circle cx="399.70" cy="338.50" r="24.10" fill="none" stroke="#141414" stroke-width="1.7"/>
<circle cx="399.70" cy="338.50" r="9.70" fill="none" stroke="#141414" stroke-width="1.6"/>
<circle cx="399.70" cy="338.50" r="6.40" fill="none" stroke="#141414" stroke-width="1.4"/>
<path d="M400.78,328.26 Q402.57,320.38 398.07,315.16" fill="none" stroke="#141414" stroke-width="2.4" stroke-linejoin="round" stroke-linecap="round" />
<path d="M403.05,328.76 Q406.57,321.49 402.96,315.33" fill="none" stroke="#141414" stroke-width="1.6" stroke-linejoin="round" stroke-linecap="round" />
<path d="M401.93,328.44 Q404.56,320.96 400.71,315.42" fill="none" stroke="#141414" stroke-width="1.1" stroke-linejoin="round" stroke-linecap="round" />
<path d="M408.38,332.95 Q415.66,329.44 416.93,322.67" fill="none" stroke="#141414" stroke-width="2.4" stroke-linejoin="round" stroke-linecap="round" />
<path d="M409.40,335.05 Q417.29,333.27 419.85,326.60" fill="none" stroke="#141414" stroke-width="1.6" stroke-linejoin="round" stroke-linecap="round" />
<path d="M408.95,333.97 Q416.44,331.37 418.37,324.90" fill="none" stroke="#141414" stroke-width="1.1" stroke-linejoin="round" stroke-linecap="round" />
<path d="M409.45,341.83 Q416.73,345.33 422.82,342.10" fill="none" stroke="#141414" stroke-width="2.4" stroke-linejoin="round" stroke-linecap="round" />
<path d="M408.45,343.94 Q414.76,348.99 421.57,346.83" fill="none" stroke="#141414" stroke-width="1.6" stroke-linejoin="round" stroke-linecap="round" />
<path d="M409.01,342.91 Q415.72,347.14 421.98,344.62" fill="none" stroke="#141414" stroke-width="1.1" stroke-linejoin="round" stroke-linecap="round" />
<path d="M403.17,348.20 Q404.98,356.07 411.30,358.82" fill="none" stroke="#141414" stroke-width="2.4" stroke-linejoin="round" stroke-linecap="round" />
<path d="M400.90,348.73 Q400.89,356.81 406.82,360.79" fill="none" stroke="#141414" stroke-width="1.6" stroke-linejoin="round" stroke-linecap="round" />
<path d="M402.05,348.53 Q402.93,356.41 408.81,359.73" fill="none" stroke="#141414" stroke-width="1.1" stroke-linejoin="round" stroke-linecap="round" />
<path d="M394.29,347.26 Q389.25,353.58 391.04,360.24" fill="none" stroke="#141414" stroke-width="2.4" stroke-linejoin="round" stroke-linecap="round" />
<path d="M392.45,345.82 Q386.12,350.85 386.71,357.96" fill="none" stroke="#141414" stroke-width="1.6" stroke-linejoin="round" stroke-linecap="round" />
<path d="M393.33,346.59 Q387.71,352.19 388.78,358.86" fill="none" stroke="#141414" stroke-width="1.1" stroke-linejoin="round" stroke-linecap="round" />
<path d="M389.47,339.73 Q381.39,339.73 377.31,345.29" fill="none" stroke="#141414" stroke-width="2.4" stroke-linejoin="round" stroke-linecap="round" />
<path d="M389.46,337.40 Q381.58,335.58 376.38,340.48" fill="none" stroke="#141414" stroke-width="1.6" stroke-linejoin="round" stroke-linecap="round" />
<path d="M389.40,338.56 Q381.52,337.66 376.98,342.65" fill="none" stroke="#141414" stroke-width="1.1" stroke-linejoin="round" stroke-linecap="round" />
<path d="M392.36,331.27 Q387.32,324.96 380.43,325.22" fill="none" stroke="#141414" stroke-width="2.4" stroke-linejoin="round" stroke-linecap="round" />
<path d="M394.18,329.81 Q390.68,322.52 383.61,321.51" fill="none" stroke="#141414" stroke-width="1.6" stroke-linejoin="round" stroke-linecap="round" />
<path d="M393.23,330.49 Q389.02,323.76 382.29,323.32" fill="none" stroke="#141414" stroke-width="1.1" stroke-linejoin="round" stroke-linecap="round" />
<circle cx="399.70" cy="397.70" r="24.10" fill="none" stroke="#141414" stroke-width="1.7"/>
<circle cx="399.70" cy="397.70" r="9.70" fill="none" stroke="#141414" stroke-width="1.6"/>
<circle cx="399.70" cy="397.70" r="6.40" fill="none" stroke="#141414" stroke-width="1.4"/>
<path d="M400.78,387.46 Q402.57,379.58 398.07,374.36" fill="none" stroke="#141414" stroke-width="2.4" stroke-linejoin="round" stroke-linecap="round" />
<path d="M403.05,387.96 Q406.57,380.69 402.96,374.53" fill="none" stroke="#141414" stroke-width="1.6" stroke-linejoin="round" stroke-linecap="round" />
<path d="M401.93,387.64 Q404.56,380.16 400.71,374.62" fill="none" stroke="#141414" stroke-width="1.1" stroke-linejoin="round" stroke-linecap="round" />
<path d="M408.38,392.15 Q415.66,388.64 416.93,381.87" fill="none" stroke="#141414" stroke-width="2.4" stroke-linejoin="round" stroke-linecap="round" />
<path d="M409.40,394.25 Q417.29,392.47 419.85,385.80" fill="none" stroke="#141414" stroke-width="1.6" stroke-linejoin="round" stroke-linecap="round" />
<path d="M408.95,393.17 Q416.44,390.57 418.37,384.10" fill="none" stroke="#141414" stroke-width="1.1" stroke-linejoin="round" stroke-linecap="round" />
<path d="M409.45,401.03 Q416.73,404.53 422.82,401.30" fill="none" stroke="#141414" stroke-width="2.4" stroke-linejoin="round" stroke-linecap="round" />
<path d="M408.45,403.14 Q414.76,408.19 421.57,406.03" fill="none" stroke="#141414" stroke-width="1.6" stroke-linejoin="round" stroke-linecap="round" />
<path d="M409.01,402.11 Q415.72,406.34 421.98,403.82" fill="none" stroke="#141414" stroke-width="1.1" stroke-linejoin="round" stroke-linecap="round" />
<path d="M403.17,407.40 Q404.98,415.27 411.30,418.02" fill="none" stroke="#141414" stroke-width="2.4" stroke-linejoin="round" stroke-linecap="round" />
<path d="M400.90,407.93 Q400.89,416.01 406.82,419.99" fill="none" stroke="#141414" stroke-width="1.6" stroke-linejoin="round" stroke-linecap="round" />
<path d="M402.05,407.73 Q402.93,415.61 408.81,418.93" fill="none" stroke="#141414" stroke-width="1.1" stroke-linejoin="round" stroke-linecap="round" />
<path d="M394.29,406.46 Q389.25,412.78 391.04,419.44" fill="none" stroke="#141414" stroke-width="2.4" stroke-linejoin="round" stroke-linecap="round" />
<path d="M392.45,405.02 Q386.12,410.05 386.71,417.16" fill="none" stroke="#141414" stroke-width="1.6" stroke-linejoin="round" stroke-linecap="round" />
<path d="M393.33,405.79 Q387.71,411.39 388.78,418.06" fill="none" stroke="#141414" stroke-width="1.1" stroke-linejoin="round" stroke-linecap="round" />
<path d="M389.47,398.93 Q381.39,398.93 377.31,404.49" fill="none" stroke="#141414" stroke-width="2.4" stroke-linejoin="round" stroke-linecap="round" />
<path d="M389.46,396.60 Q381.58,394.78 376.38,399.68" fill="none" stroke="#141414" stroke-width="1.6" stroke-linejoin="round" stroke-linecap="round" />
<path d="M389.40,397.76 Q381.52,396.86 376.98,401.85" fill="none" stroke="#141414" stroke-width="1.1" stroke-linejoin="round" stroke-linecap="round" />
<path d="M392.36,390.47 Q387.32,384.16 380.43,384.42" fill="none" stroke="#141414" stroke-width="2.4" stroke-linejoin="round" stroke-linecap="round" />
<path d="M394.18,389.01 Q390.68,381.72 383.61,380.71" fill="none" stroke="#141414" stroke-width="1.6" stroke-linejoin="round" stroke-linecap="round" />
<path d="M393.23,389.69 Q389.02,382.96 382.29,382.52" fill="none" stroke="#141414" stroke-width="1.1" stroke-linejoin="round" stroke-linecap="round" />
<circle cx="318.10" cy="317.30" r="1.70" fill="#3a3a3a" stroke="#141414" stroke-width="1.2"/>
<circle cx="318.10" cy="359.60" r="1.70" fill="#3a3a3a" stroke="#141414" stroke-width="1.2"/>
<circle cx="318.10" cy="376.30" r="1.70" fill="#3a3a3a" stroke="#141414" stroke-width="1.2"/>
<circle cx="318.10" cy="418.50" r="1.70" fill="#3a3a3a" stroke="#141414" stroke-width="1.2"/>
<circle cx="360.10" cy="317.30" r="1.70" fill="#ddd" stroke="#141414" stroke-width="1.2"/>
<circle cx="360.10" cy="359.60" r="1.70" fill="#ddd" stroke="#141414" stroke-width="1.2"/>
<circle cx="360.10" cy="376.30" r="1.70" fill="#ddd" stroke="#141414" stroke-width="1.2"/>
<circle cx="360.10" cy="418.50" r="1.70" fill="#ddd" stroke="#141414" stroke-width="1.2"/>
<circle cx="377.50" cy="317.30" r="1.70" fill="#3a3a3a" stroke="#141414" stroke-width="1.2"/>
<circle cx="377.50" cy="359.60" r="1.70" fill="#3a3a3a" stroke="#141414" stroke-width="1.2"/>
<circle cx="377.50" cy="376.30" r="1.70" fill="#3a3a3a" stroke="#141414" stroke-width="1.2"/>
<circle cx="377.50" cy="418.50" r="1.70" fill="#3a3a3a" stroke="#141414" stroke-width="1.2"/>
<circle cx="419.60" cy="317.30" r="1.70" fill="#ddd" stroke="#141414" stroke-width="1.2"/>
<circle cx="419.60" cy="359.60" r="1.70" fill="#ddd" stroke="#141414" stroke-width="1.2"/>
<circle cx="419.60" cy="376.30" r="1.70" fill="#ddd" stroke="#141414" stroke-width="1.2"/>
<circle cx="419.60" cy="418.50" r="1.70" fill="#ddd" stroke="#141414" stroke-width="1.2"/>
<circle cx="308.00" cy="298.90" r="1.80" fill="none" stroke="#141414" stroke-width="1.1"/>
<circle cx="345.30" cy="300.00" r="1.80" fill="none" stroke="#141414" stroke-width="1.1"/>
<circle cx="381.20" cy="300.00" r="1.80" fill="none" stroke="#141414" stroke-width="1.1"/>
<circle cx="421.30" cy="300.20" r="1.80" fill="none" stroke="#141414" stroke-width="1.1"/>
<line x1="345.30" y1="301.80" x2="345.30" y2="304.00" stroke="#141414" stroke-width="0.8" />
<line x1="421.30" y1="301.80" x2="421.30" y2="304.00" stroke="#141414" stroke-width="0.8" />
<rect x="305.50" y="303.20" width="3.90" height="2.00" rx="0" fill="none" stroke="#141414" stroke-width="0.8"/>
<rect x="277.5" y="294.9" width="13" height="1.4" fill="#141414"/>
<circle cx="308.00" cy="437.00" r="1.90" fill="none" stroke="#141414" stroke-width="1.3"/>
<line x1="308.00" y1="431.60" x2="308.00" y2="435.10" stroke="#141414" stroke-width="0.9" />
<line x1="305.80" y1="439.00" x2="310.20" y2="439.00" stroke="#141414" stroke-width="1.6" />
<circle cx="349.80" cy="435.80" r="1.90" fill="none" stroke="#141414" stroke-width="1.3"/>
<line x1="349.80" y1="431.60" x2="349.80" y2="433.90" stroke="#141414" stroke-width="0.9" />
<line x1="347.60" y1="439.00" x2="352.00" y2="439.00" stroke="#141414" stroke-width="1.6" />
<circle cx="389.60" cy="435.80" r="1.90" fill="none" stroke="#141414" stroke-width="1.3"/>
<line x1="389.60" y1="431.60" x2="389.60" y2="433.90" stroke="#141414" stroke-width="0.9" />
<line x1="387.40" y1="439.00" x2="391.80" y2="439.00" stroke="#141414" stroke-width="1.6" />
<circle cx="431.00" cy="437.00" r="1.90" fill="none" stroke="#141414" stroke-width="1.3"/>
<line x1="431.00" y1="431.60" x2="431.00" y2="435.10" stroke="#141414" stroke-width="0.9" />
<line x1="428.80" y1="439.00" x2="433.20" y2="439.00" stroke="#141414" stroke-width="1.6" />
<circle cx="431.20" cy="302.70" r="5.40" fill="none" stroke="#141414" stroke-width="1.6"/>
<circle cx="431.20" cy="302.70" r="2.80" fill="none" stroke="#141414" stroke-width="1.3"/>
<path d="M424.6,296.2 L424.6,305.0 Q427.4,311.4 435.0,314.2" fill="none" stroke="#141414" stroke-width="1.2" stroke-linejoin="round" stroke-linecap="round" />
<path d="M432,296.2 L436.0,296.2 Q438.7,296.6 438.7,299.4 L438.7,323 L438.4,346.2 L438.4,355.8 Q438.6,365.2 447.0,365.2 L461.6,365.2 Q469.3,365.3 469.3,372.0 L469.3,434.5 Q469.3,439.5 464.6,439.5" fill="none" stroke="#141414" stroke-width="1.5" stroke-linejoin="round" stroke-linecap="round" />
<rect x="438.70" y="323.10" width="6.00" height="23.10" rx="0" fill="none" stroke="#141414" stroke-width="1.2"/>
<line x1="442.50" y1="323.10" x2="442.50" y2="346.20" stroke="#141414" stroke-width="0.8" />
<circle cx="462.90" cy="371.00" r="3.50" fill="none" stroke="#3d1417" stroke-width="1.3"/>
<circle cx="462.80" cy="433.20" r="3.50" fill="none" stroke="#3d1417" stroke-width="1.3"/>
<line x1="435.00" y1="367.00" x2="455.00" y2="367.00" stroke="#141414" stroke-width="1.0" />
<line x1="435.00" y1="368.90" x2="452.00" y2="368.90" stroke="#141414" stroke-width="0.8" />
<line x1="451.80" y1="368.90" x2="451.80" y2="437.40" stroke="#141414" stroke-width="1.0" />
<line x1="454.60" y1="367.00" x2="454.60" y2="439.50" stroke="#141414" stroke-width="1.1" />
<line x1="435.00" y1="437.40" x2="454.60" y2="437.40" stroke="#141414" stroke-width="0.8" />
</g>
<g id="view-front">
<path d="M595.70,439.50 L595.70,284.80 L603.20,284.80 L603.20,439.50" fill="none" stroke="#141414" stroke-width="1.5" stroke-linejoin="round" stroke-linecap="round" />
<line x1="598.10" y1="286.00" x2="598.10" y2="352.00" stroke="#141414" stroke-width="1.0" />
<rect x="592.60" y="299.20" width="3.10" height="8.40" rx="0.8" fill="none" stroke="#141414" stroke-width="1.1"/>
<line x1="595.30" y1="363.50" x2="595.30" y2="378.40" stroke="#141414" stroke-width="2.2" />
<line x1="603.20" y1="296.50" x2="734.20" y2="296.50" stroke="#141414" stroke-width="1.5" />
<line x1="595.70" y1="439.50" x2="716.80" y2="439.50" stroke="#141414" stroke-width="1.6" />
<line x1="598.00" y1="436.60" x2="711.40" y2="436.60" stroke="#141414" stroke-width="0.9" />
<rect x="607.60" y="296.50" width="88.40" height="88.40" rx="3.5" fill="none" stroke="#141414" stroke-width="1.3"/>
<rect x="609.80" y="298.70" width="84.00" height="84.00" rx="5.5" fill="none" stroke="#141414" stroke-width="1.0"/>
<line x1="711.40" y1="296.50" x2="711.40" y2="439.50" stroke="#141414" stroke-width="1.6" />
<line x1="716.80" y1="296.50" x2="716.80" y2="439.50" stroke="#141414" stroke-width="1.6" />
<path d="M716.80,302.50 L733.80,302.50 L733.80,296.50" fill="none" stroke="#141414" stroke-width="1.2" stroke-linejoin="round" stroke-linecap="round" />
<line x1="716.80" y1="297.20" x2="733.80" y2="297.20" stroke="#141414" stroke-width="2.0" />
<path d="M716.80,434.00 L734.20,434.00 L734.20,439.50 L716.80,439.50" fill="none" stroke="#141414" stroke-width="1.3" stroke-linejoin="round" stroke-linecap="round" />
<rect x="614.30" y="388.20" width="86.10" height="42.00" rx="3.5" fill="none" stroke="#141414" stroke-width="1.4"/>
<circle cx="654.00" cy="416.40" r="5.30" fill="none" stroke="#141414" stroke-width="1.4"/>
<line x1="650.60" y1="413.40" x2="657.60" y2="419.20" stroke="#141414" stroke-width="1.2" />
<line x1="651.60" y1="412.60" x2="658.40" y2="418.20" stroke="#141414" stroke-width="1.2" />
<circle cx="652.10" cy="340.90" r="54.20" fill="#fff" stroke="#141414" stroke-width="3.0"/>
<circle cx="652.20" cy="340.90" r="50.30" fill="none" stroke="#141414" stroke-width="1.7"/>
<circle cx="652.20" cy="340.90" r="47.20" fill="none" stroke="#141414" stroke-width="1.4"/>
</g>
<g id="dims-front">
<line x1="592.00" y1="341.00" x2="766.00" y2="341.00" stroke="#621b21" stroke-width="1.3" stroke-dasharray="22.2 3.5 2.3 2.3 22.2 3.5 7 2.4 22.1 3.5 2.3 2.4 90"/>
<line x1="651.90" y1="259.40" x2="651.90" y2="399.80" stroke="#621b21" stroke-width="1.3" stroke-dasharray="44.3 2.2 2.5 2.2 22.7 3 9 3 17.7 2.5 2.5 2.5 40"/>
<line x1="594.90" y1="260.00" x2="594.90" y2="284.50" stroke="#621b21" stroke-width="1.3" />
<line x1="578.00" y1="265.00" x2="669.00" y2="265.00" stroke="#621b21" stroke-width="1.3" />
<path d="M594.90,265.00 L583.90,263.30 L583.90,266.70 Z" fill="#a6232b" stroke="#a6232b" stroke-width="0.4"/>
<path d="M651.90,265.00 L662.90,266.70 L662.90,263.30 Z" fill="#a6232b" stroke="#a6232b" stroke-width="0.4"/>
<g fill="#6c232a" stroke="#6c232a" text-anchor="middle">
<text transform="translate(602.40,260.20) scale(0.7,1)" x="4.14 15.14 24.57 34.00 45.00" y="0" font-size="17.6" stroke-width="0.3">42.50</text>
</g>
<path d="M780,251.9 L652.6,251.9 Q650.8,252.0 650.0,253.6 L633.6,281.4" fill="none" stroke="#621b21" stroke-width="1.4" stroke-linejoin="round" stroke-linecap="round" />
<path d="M628.90,288.90 L635.55,281.26 L632.83,279.57 Z" fill="#a6232b" stroke="#a6232b" stroke-width="0.4"/>
<line x1="734.20" y1="296.40" x2="766.40" y2="296.40" stroke="#621b21" stroke-width="1.3" />
<line x1="760.30" y1="280.00" x2="760.30" y2="358.00" stroke="#621b21" stroke-width="1.3" />
<path d="M760.30,296.40 L762.00,285.40 L758.60,285.40 Z" fill="#a6232b" stroke="#a6232b" stroke-width="0.4"/>
<path d="M760.30,340.90 L758.60,351.90 L762.00,351.90 Z" fill="#a6232b" stroke="#a6232b" stroke-width="0.4"/>
<g fill="#6c232a" stroke="#6c232a" text-anchor="middle">
<text transform="translate(755.20,320.60) rotate(-90) scale(0.7,1)" x="4.14 15.14" y="0" font-size="17.6" stroke-width="0.3">34</text>
</g>
</g>
</g>
</svg>
</body></html>
